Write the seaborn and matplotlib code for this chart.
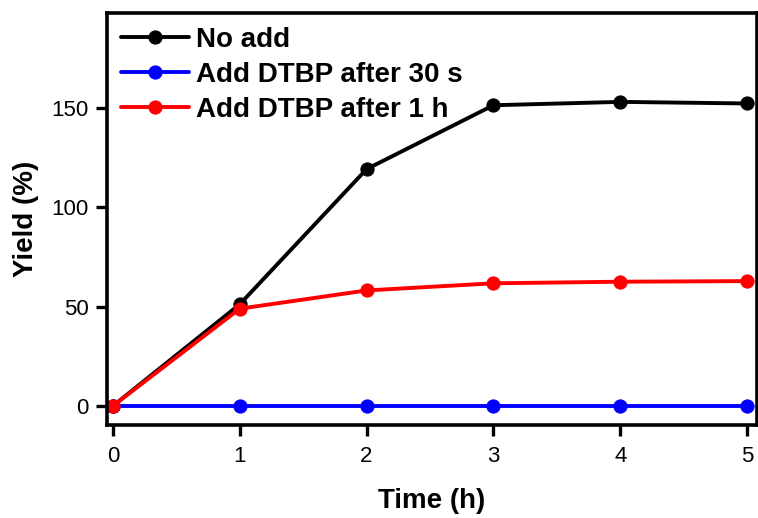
import pandas as pd
import numpy as np
import matplotlib
matplotlib.use('Agg')
import matplotlib.pyplot as plt
import seaborn as sns

# data
time_h = [0, 1, 2, 3, 4, 5]
no_add = [0, 51.2, 119.3, 151.5, 153.2, 152.4]
add_30s = [0, 0, 0, 0, 0, 0]
add_1h = [0, 49.0, 58.2, 61.8, 62.6, 62.9]
labels = ['No add', 'Add DTBP after 30 s', 'Add DTBP after 1 h']
colors = ['black', '#0000ff', '#ff0000']

df = pd.DataFrame({
    'Time': time_h * 3,
    'Yield': no_add + add_30s + add_1h,
    'series': [labels[0]] * 6 + [labels[1]] * 6 + [labels[2]] * 6,
})

sns.set_style('white')
plt.rcParams['font.family'] = ['Liberation Sans', 'DejaVu Sans']
plt.rcParams['text.color'] = 'black'
plt.rcParams['axes.labelcolor'] = 'black'
plt.rcParams['xtick.color'] = 'black'
plt.rcParams['ytick.color'] = 'black'

fig = plt.figure(figsize=(7.58, 5.18), dpi=100)
ax = fig.add_axes([0.141, 0.1795, 0.858, 0.7955])

sns.lineplot(data=df, x='Time', y='Yield', hue='series', hue_order=labels,
             palette=colors, marker='o', markersize=9.5, linewidth=2.8,
             ax=ax)
# markers without the white seaborn edge
for ln in ax.lines:
    ln.set_markeredgecolor(ln.get_color())

ax.set_xlim(-0.047, 5.08)
ax.set_ylim(-9.6, 198)
ax.set_xticks([0, 1, 2, 3, 4, 5])
ax.set_yticks([0, 50, 100, 150])
ax.tick_params(axis='both', direction='out', length=8, width=2.4,
               labelsize=16, bottom=True, left=True)
ax.tick_params(axis='x', pad=7)
ax.tick_params(axis='y', pad=5)
for s in ax.spines.values():
    s.set_linewidth(2.6)
    s.set_color('black')

ax.set_xlabel('Time (h)', fontsize=20, fontweight='bold', labelpad=15)
ax.set_ylabel('Yield (%)', fontsize=20, fontweight='bold', labelpad=9)

leg = ax.legend(loc='upper left', frameon=False, handlelength=2.45,
                handletextpad=0.25, labelspacing=0.32, borderpad=0.4,
                borderaxespad=0.1, prop={'weight': 'bold', 'size': 20})
for h in leg.get_lines():
    h.set_markeredgecolor(h.get_color())

fig.savefig('out.png', dpi=100)
